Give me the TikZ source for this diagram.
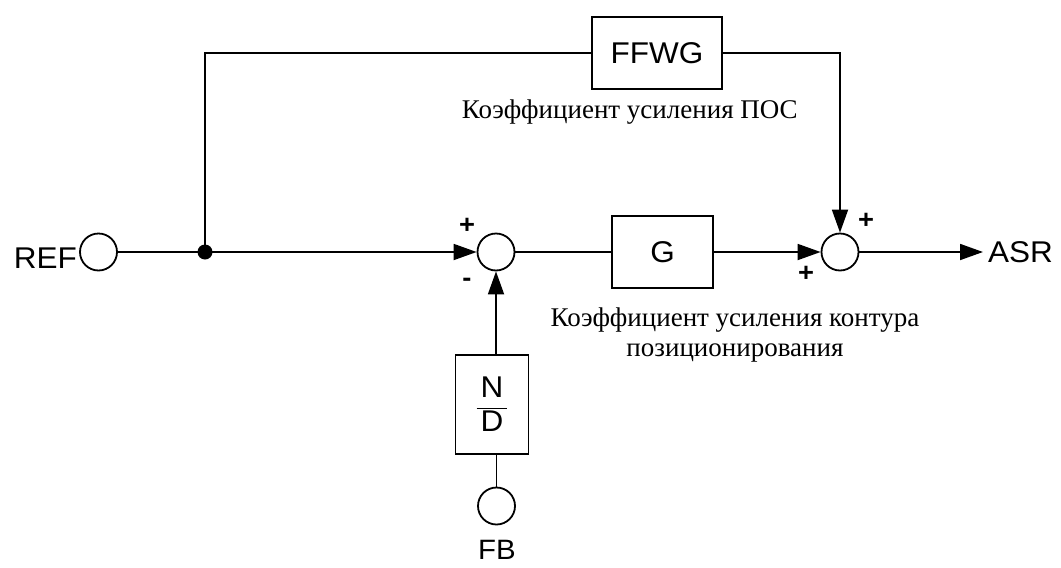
\documentclass[tikz,border=0pt]{standalone}
\usepackage{fontspec}
\setmainfont{Liberation Serif}
\newfontfamily\sansf[FakeStretch=1.05]{Liberation Sans}
\usetikzlibrary{arrows.meta}
\begin{document}
\begin{tikzpicture}[x=1pt,y=-1pt,
  wire/.style={line width=1.8pt},
  arr/.style={wire,-{Triangle[length=23pt,width=16pt]}},
  blk/.style={draw,line width=1.8pt,inner sep=0pt},
  sumc/.style={draw,circle,line width=1.8pt,minimum size=37pt,inner sep=0pt},
  lbl/.style={font=\sansf\fontsize{30}{36}\selectfont,inner sep=0pt},
  sgn/.style={font=\sansf\bfseries\fontsize{26}{30}\selectfont,inner sep=0pt},
  capt/.style={font=\fontsize{27}{32}\selectfont,inner sep=0pt}]
\useasboundingbox (0,0) rectangle (1061,568);
% nodes
\node[sumc] (ref) at (98.5,252) {};
\node[lbl,anchor=base east] (reft) at (77,268) {REF};
\node[circle,fill,inner sep=0pt,minimum size=15pt] (jn) at (205,252) {};
\node[sumc] (s1) at (496,252) {};
\node[blk,lbl,minimum width=130pt,minimum height=72pt] (ffwg) at (657,53) {FFWG};
\node[blk,lbl,minimum width=101pt,minimum height=72pt] (g) at (662.5,252) {G};
\node[sumc] (s2) at (840,252) {};
\coordinate (asrtip) at (983,252);
\node[lbl,anchor=base west] (asr) at (988,262) {ASR};
\node[blk,lbl,minimum width=73pt,minimum height=99pt] (nd) at (492,404.5)
  {$\displaystyle\frac{\hbox{\kern4pt\sansf N\kern4pt}}{\hbox{\sansf D}}$};
\node[sumc] (fb) at (496.5,506) {};
\node[lbl,anchor=base,font=\sansf\fontsize{28}{34}\selectfont] (fbt) at (497,559) {FB};
% signs
\node[sgn] (p1) at (467,226) {+};
\node[sgn] (m1) at (467,282) {-};
\node[sgn] (p2) at (866,221) {+};
\node[sgn] (p3) at (806,274) {+};
% captions
\node[capt,anchor=base east] (lpos) at (798,118) {Коэффициент усиления ПОС};
\node[capt,anchor=base] (lg1) at (735,326) {Коэффициент усиления контура};
\node[capt,anchor=base] (lg2) at (735,356) {позиционирования};
% connectors
\draw[wire] (ref.east) -- (jn.center);
\draw[arr] (jn.center) -- (s1.west);
\draw[wire] (jn.center) |- (ffwg.west);
\draw[arr] (ffwg.east) -| (s2.north);
\draw[wire] (s1.east) -- (g.west);
\draw[arr] (g.east) -- (s2.west);
\draw[arr] (s2.east) -- (asrtip);
\draw[arr] (nd.north -| s1) -- (s1.south);
\draw[wire] (nd.south -| fb) -- (fb.north);
\end{tikzpicture}
\end{document}
